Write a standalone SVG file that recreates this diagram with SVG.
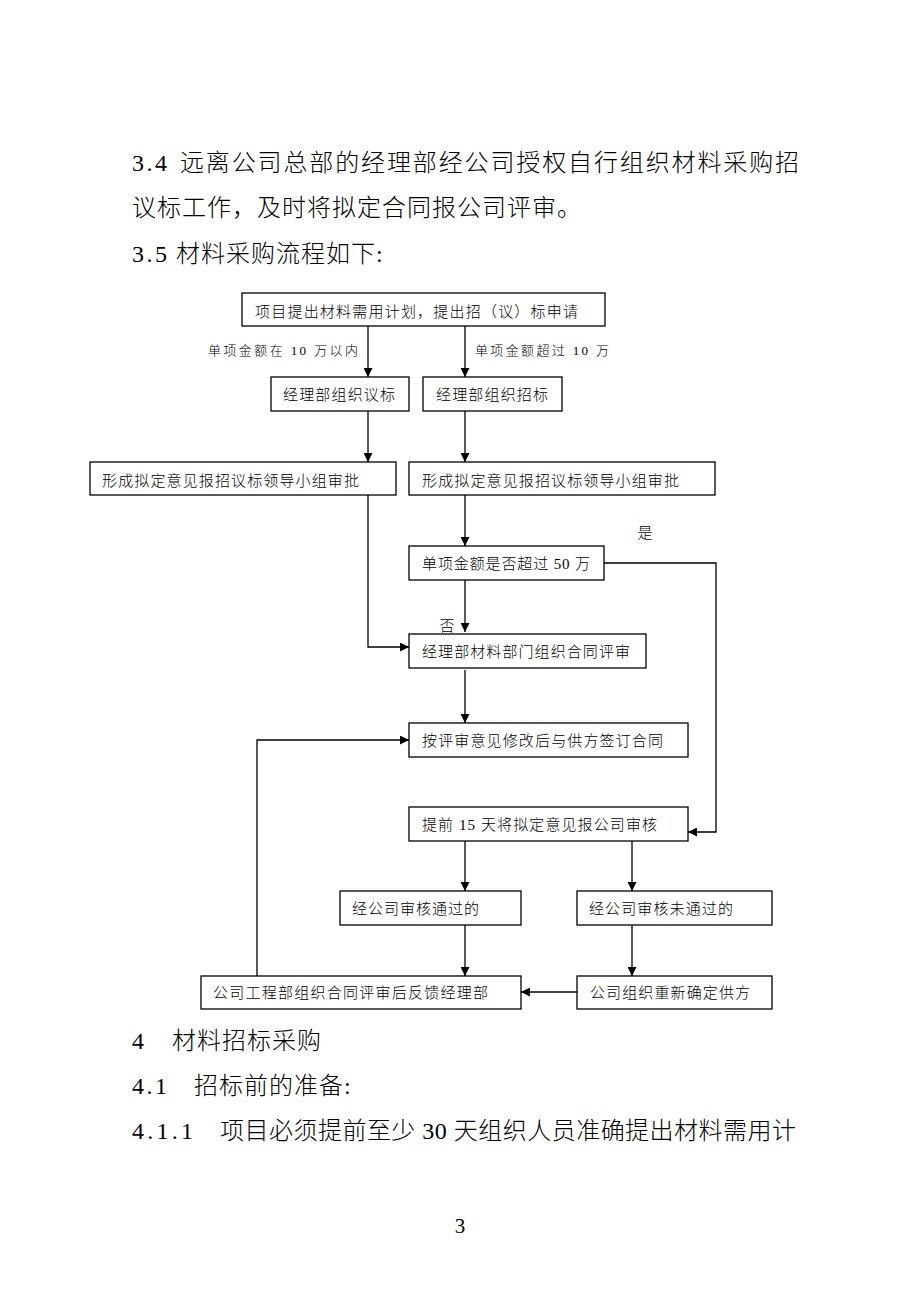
<svg xmlns="http://www.w3.org/2000/svg" width="920" height="1302" viewBox="0 0 920 1302">
<style>
.body{font-family:"Liberation Serif","Noto Sans CJK SC",serif;font-size:24px;font-weight:300;fill:#000;letter-spacing:1px}
.box{fill:#fff;stroke:#000;stroke-width:1.3}
.t{font-family:"Liberation Serif","Noto Sans CJK SC",serif;font-size:15px;font-weight:300;fill:#000}
.lab{font-family:"Liberation Serif","Noto Sans CJK SC",serif;font-size:13px;font-weight:300;fill:#000}
.c{fill:none;stroke:#000;stroke-width:1.3}
</style>
<defs>
<marker id="ah" viewBox="0 0 10 10" refX="10" refY="5" markerWidth="9" markerHeight="9" markerUnits="userSpaceOnUse" orient="auto">
<path d="M0,0 L10,5 L0,10 z" fill="#000"/>
</marker>
</defs>
<rect width="920" height="1302" fill="#fff"/>

<g id="body-text">
<text class="body" y="171"><tspan x="132" textLength="36" lengthAdjust="spacing">3.4</tspan><tspan x="180" textLength="620" lengthAdjust="spacing">远离公司总部的经理部经公司授权自行组织材料采购招</tspan></text>
<text class="body" x="132" y="216">议标工作，及时将拟定合同报公司评审。</text>
<text class="body" y="262"><tspan x="132" textLength="36" lengthAdjust="spacing">3.5</tspan><tspan x="176">材料采购流程如下:</tspan></text>
<text class="body" y="1049"><tspan x="132">4</tspan><tspan x="172">材料招标采购</tspan></text>
<text class="body" y="1094"><tspan x="132" textLength="36" lengthAdjust="spacing">4.1</tspan><tspan x="194">招标前的准备:</tspan></text>
<text class="body" y="1139"><tspan x="132" textLength="62" lengthAdjust="spacing">4.1.1</tspan><tspan x="220" textLength="577" lengthAdjust="spacing">项目必须提前至少 30 天组织人员准确提出材料需用计</tspan></text>
<text class="body" x="460" y="1233" text-anchor="middle" style="font-size:21px;letter-spacing:0">3</text>
</g>

<g id="connectors">
<path class="c" d="M368,326 V377" marker-end="url(#ah)"/>
<path class="c" d="M465,326 V377" marker-end="url(#ah)"/>
<path class="c" d="M368,411 V462" marker-end="url(#ah)"/>
<path class="c" d="M465,411 V462" marker-end="url(#ah)"/>
<path class="c" d="M368,495 V647 H409" marker-end="url(#ah)"/>
<path class="c" d="M465,495 V546" marker-end="url(#ah)"/>
<path class="c" d="M465,580 V632" marker-end="url(#ah)"/>
<path class="c" d="M604,563 H716 V832 H688" marker-end="url(#ah)"/>
<path class="c" d="M465,670 V723" marker-end="url(#ah)"/>
<path class="c" d="M257,976 V740 H409" marker-end="url(#ah)"/>
<path class="c" d="M465,841 V891" marker-end="url(#ah)"/>
<path class="c" d="M632,841 V891" marker-end="url(#ah)"/>
<path class="c" d="M465,925 V976" marker-end="url(#ah)"/>
<path class="c" d="M632,925 V976" marker-end="url(#ah)"/>
<path class="c" d="M577,992 H521" marker-end="url(#ah)"/>
<text class="lab" x="208" y="355" textLength="150" lengthAdjust="spacing">单项金额在 10 万以内</text>
<text class="lab" x="475" y="355" textLength="134" lengthAdjust="spacing">单项金额超过 10 万</text>
<text class="t" x="645" y="538" text-anchor="middle">是</text>
<text class="t" x="447" y="631" text-anchor="middle">否</text>
</g>

<g id="n1"><rect class="box" x="242" y="293" width="363" height="33"/><text class="t" x="255" y="317" textLength="323" lengthAdjust="spacing">项目提出材料需用计划，提出招（议）标申请</text></g>
<g id="n2"><rect class="box" x="271" y="377" width="138" height="34"/><text class="t" x="283" y="400" textLength="112" lengthAdjust="spacing">经理部组织议标</text></g>
<g id="n3"><rect class="box" x="423" y="377" width="139" height="34"/><text class="t" x="436" y="400" textLength="112" lengthAdjust="spacing">经理部组织招标</text></g>
<g id="n4"><rect class="box" x="90" y="462" width="306" height="33"/><text class="t" x="102" y="486" textLength="257" lengthAdjust="spacing">形成拟定意见报招议标领导小组审批</text></g>
<g id="n5"><rect class="box" x="409" y="462" width="306" height="33"/><text class="t" x="422" y="486" textLength="257" lengthAdjust="spacing">形成拟定意见报招议标领导小组审批</text></g>
<g id="n6"><rect class="box" x="409" y="546" width="195" height="34"/><text class="t" x="422" y="569" textLength="168" lengthAdjust="spacing">单项金额是否超过 50 万</text></g>
<g id="n7"><rect class="box" x="409" y="634" width="237" height="34"/><text class="t" x="422" y="657" textLength="208" lengthAdjust="spacing">经理部材料部门组织合同评审</text></g>
<g id="n8"><rect class="box" x="409" y="723" width="279" height="34"/><text class="t" x="422" y="746" textLength="241" lengthAdjust="spacing">按评审意见修改后与供方签订合同</text></g>
<g id="n9"><rect class="box" x="409" y="807" width="279" height="34"/><text class="t" x="422" y="830" textLength="235" lengthAdjust="spacing">提前 15 天将拟定意见报公司审核</text></g>
<g id="n10"><rect class="box" x="340" y="891" width="181" height="34"/><text class="t" x="352" y="914" textLength="127" lengthAdjust="spacing">经公司审核通过的</text></g>
<g id="n11"><rect class="box" x="577" y="891" width="195" height="34"/><text class="t" x="589" y="914" textLength="144" lengthAdjust="spacing">经公司审核未通过的</text></g>
<g id="n12"><rect class="box" x="201" y="976" width="320" height="33"/><text class="t" x="213" y="998" textLength="275" lengthAdjust="spacing">公司工程部组织合同评审后反馈经理部</text></g>
<g id="n13"><rect class="box" x="577" y="976" width="195" height="33"/><text class="t" x="590" y="998" textLength="160" lengthAdjust="spacing">公司组织重新确定供方</text></g>
</svg>
